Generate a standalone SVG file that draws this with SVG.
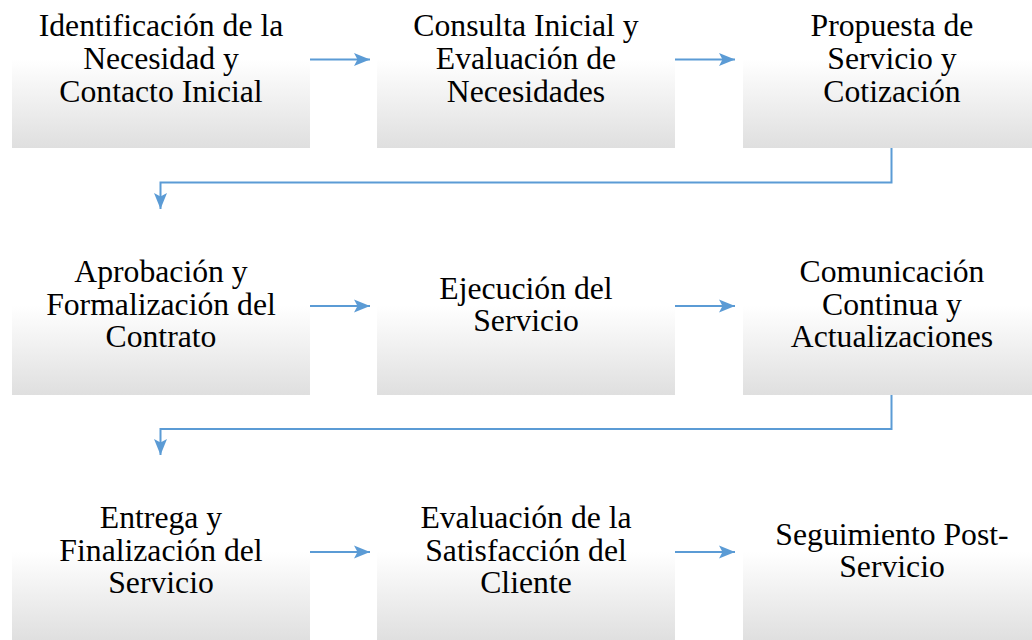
<svg xmlns="http://www.w3.org/2000/svg" width="1032" height="640" viewBox="0 0 1032 640">
<style>
.box{fill:url(#g);}
.t{font-family:'Liberation Serif','DejaVu Serif',serif;font-size:31.7px;fill:#000;text-anchor:middle;}
.c{fill:none;stroke:#5b9bd5;stroke-width:2;}
</style>
<defs>
<linearGradient id="g" x1="0" y1="0" x2="0" y2="1">
<stop offset="0" stop-color="#ffffff"/>
<stop offset="0.52" stop-color="#ffffff"/>
<stop offset="1" stop-color="#dfdfdf"/>
</linearGradient>
<marker id="ah" markerWidth="17" markerHeight="14" refX="16" refY="7" orient="auto" markerUnits="userSpaceOnUse">
<path d="M0,0.5 L16,7 L0,13.5 L3.5,7 Z" fill="#5b9bd5"/>
</marker>
</defs>
<rect width="1032" height="640" fill="#ffffff"/>
<g id="n1"><rect class="box" x="12" y="-37" width="298" height="185"/><text class="t"><tspan x="161" y="36">Identificación de la</tspan><tspan x="161" y="69">Necesidad y</tspan><tspan x="161" y="101.5">Contacto Inicial</tspan></text></g>
<g id="n2"><rect class="box" x="377" y="-37" width="298" height="185"/><text class="t"><tspan x="526" y="36">Consulta Inicial y</tspan><tspan x="526" y="69">Evaluación de</tspan><tspan x="526" y="101.5">Necesidades</tspan></text></g>
<g id="n3"><rect class="box" x="743" y="-37" width="298" height="185"/><text class="t"><tspan x="892" y="36">Propuesta de</tspan><tspan x="892" y="69">Servicio y</tspan><tspan x="892" y="101.5">Cotización</tspan></text></g>
<g id="n4"><rect class="box" x="12" y="209" width="298" height="186"/><text class="t"><tspan x="161" y="282">Aprobación y</tspan><tspan x="161" y="315">Formalización del</tspan><tspan x="161" y="347">Contrato</tspan></text></g>
<g id="n5"><rect class="box" x="377" y="209" width="298" height="186"/><text class="t"><tspan x="526" y="298.5">Ejecución del</tspan><tspan x="526" y="331">Servicio</tspan></text></g>
<g id="n6"><rect class="box" x="743" y="209" width="298" height="186"/><text class="t"><tspan x="892" y="282">Comunicación</tspan><tspan x="892" y="315">Continua y</tspan><tspan x="892" y="347">Actualizaciones</tspan></text></g>
<g id="n7"><rect class="box" x="12" y="455" width="298" height="186"/><text class="t"><tspan x="161" y="528">Entrega y</tspan><tspan x="161" y="561">Finalización del</tspan><tspan x="161" y="593">Servicio</tspan></text></g>
<g id="n8"><rect class="box" x="377" y="455" width="298" height="186"/><text class="t"><tspan x="526" y="528">Evaluación de la</tspan><tspan x="526" y="561">Satisfacción del</tspan><tspan x="526" y="593">Cliente</tspan></text></g>
<g id="n9"><rect class="box" x="743" y="455" width="298" height="186"/><text class="t"><tspan x="892" y="545">Seguimiento Post-</tspan><tspan x="892" y="577">Servicio</tspan></text></g>
<g id="connectors">
<path class="c" d="M310,59.5 H370" marker-end="url(#ah)"/>
<path class="c" d="M675,59.5 H735" marker-end="url(#ah)"/>
<path class="c" d="M891.5,148 V182.5 H160.5 V209" marker-end="url(#ah)"/>
<path class="c" d="M310,306 H370" marker-end="url(#ah)"/>
<path class="c" d="M675,306 H735" marker-end="url(#ah)"/>
<path class="c" d="M891.5,395 V429 H160.5 V455" marker-end="url(#ah)"/>
<path class="c" d="M310,552 H370" marker-end="url(#ah)"/>
<path class="c" d="M675,552 H735" marker-end="url(#ah)"/>
</g>
</svg>
